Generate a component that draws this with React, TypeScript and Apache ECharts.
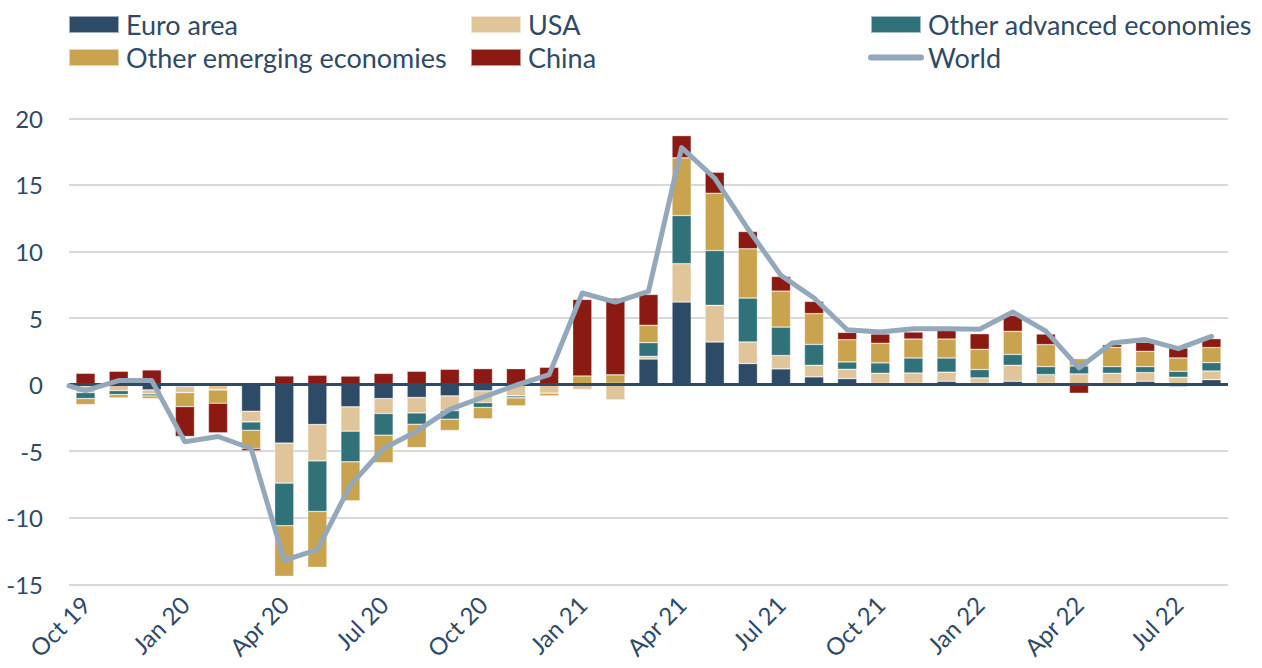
import React, { useEffect, useRef } from "react";
import * as echarts from "echarts";

const months: string[] = [
  "Oct 19", "Nov 19", "Dec 19",
  "Jan 20", "Feb 20", "Mar 20", "Apr 20", "May 20", "Jun 20", "Jul 20", "Aug 20", "Sep 20", "Oct 20", "Nov 20", "Dec 20",
  "Jan 21", "Feb 21", "Mar 21", "Apr 21", "May 21", "Jun 21", "Jul 21", "Aug 21", "Sep 21", "Oct 21", "Nov 21", "Dec 21",
  "Jan 22", "Feb 22", "Mar 22", "Apr 22", "May 22", "Jun 22", "Jul 22", "Aug 22",
];

const euroArea: number[] = [
  -0.1, -0.05, -0.4, -0.15, -0.05, -2.0, -4.4, -3.0, -1.67, -1.05, -0.97, -0.85, -0.47, -0.05, -0.05,
  -0.03, -0.05, 1.92, 6.2, 3.2, 1.58, 1.18, 0.58, 0.45, 0.1, 0.1, 0.25,
  0.1, 0.25, 0.1, 0.05, 0.1, 0.25, -0.15, 0.37,
];
const usa: number[] = [
  -0.5, -0.4, -0.3, -0.45, -0.35, -0.8, -3.0, -2.73, -1.83, -1.12, -1.16, -1.1, -0.88, -0.8, -0.6,
  -0.35, -1.1, 0.2, 2.88, 2.75, 1.62, 1.0, 0.87, 0.7, 0.75, 0.77, 0.68,
  0.4, 1.2, 0.65, 0.75, 0.75, 0.65, 0.55, 0.65,
];
const otherAdvanced: number[] = [
  -0.45, -0.3, -0.15, 0, 0, -0.63, -3.2, -3.8, -2.3, -1.63, -0.85, -0.65, -0.37, -0.15, 0,
  0, 0.1, 1.03, 3.62, 4.12, 3.3, 2.14, 1.57, 0.55, 0.78, 1.13, 1.07,
  0.63, 0.82, 0.6, 0.6, 0.5, 0.45, 0.45, 0.63,
];
const otherEmerging: number[] = [
  -0.45, -0.25, -0.2, -1.05, -1.0, -1.37, -3.8, -4.2, -2.93, -2.07, -1.75, -0.85, -0.85, -0.6, -0.2,
  0.65, 0.63, 1.3, 4.33, 4.3, 3.7, 2.7, 2.31, 1.67, 1.47, 1.42, 1.42,
  1.52, 1.73, 1.65, 0.55, 1.45, 1.15, 1.0, 1.13,
];
const china: number[] = [
  0.85, 1.0, 1.1, -2.25, -2.23, -0.18, 0.65, 0.7, 0.64, 0.84, 1.0, 1.15, 1.2, 1.2, 1.3,
  5.75, 5.75, 2.32, 1.67, 1.58, 1.3, 1.1, 0.92, 0.55, 0.7, 0.53, 0.71,
  1.17, 1.2, 0.8, -0.65, 0.2, 0.68, 0.75, 0.67,
];
// World line; the line starts half a month before the first bar
const worldStart = -0.1;
const world: number[] = [
  -0.45, 0.3, 0.3, -4.3, -3.9, -4.8, -13.2, -12.4, -7.55, -4.8, -3.5, -1.86, -0.95, -0.05, 0.75,
  6.88, 6.2, 7.0, 17.8, 15.5, 11.7, 8.2, 6.5, 4.12, 3.95, 4.2, 4.2,
  4.15, 5.45, 4.02, 1.25, 3.12, 3.38, 2.7, 3.62,
];

const yTicks = { min: -15, max: 20, interval: 5 };

const COLORS = {
  euro: "#2D4A66",
  usa: "#E0C59A",
  adv: "#31727A",
  emg: "#C9A34E",
  china: "#8A1A12",
  world: "#93A8BB",
  text: "#2E4A66",
  grid: "#D9D9D9",
};

const FONT = "Lato, 'Open Sans', sans-serif";

export default function App() {
  const ref = useRef<HTMLDivElement>(null);

  useEffect(() => {
    document.body.style.margin = "0";
    if (!ref.current) return;
    const chart = echarts.init(ref.current, undefined, { renderer: "svg" });

    const barSeries = (name: string, data: number[], color: string, extra: any = {}) => ({
      name,
      type: "bar",
      stack: "total",
      xAxisIndex: 0,
      yAxisIndex: 0,
      barWidth: "58%",
      data,
      itemStyle: { color, borderColor: "rgba(255,255,255,0.55)", borderWidth: 0.6 },
      emphasis: { disabled: true },
      ...extra,
    });

    const legendCommon = {
      orient: "vertical",
      top: 11,
      itemWidth: 50,
      itemHeight: 17,
      itemGap: 6,
      padding: 0,
      selectedMode: false,
      textStyle: { fontFamily: FONT, fontSize: 27, color: COLORS.text, padding: [0, 0, 0, 2] },
    };

    const option: any = {
      animation: false,
      textStyle: { fontFamily: FONT },
      legend: [
        { ...legendCommon, left: 68, data: [{ name: "Euro area", icon: "rect" }, { name: "Other emerging economies", icon: "rect" }] },
        { ...legendCommon, left: 470, data: [{ name: "USA", icon: "rect" }, { name: "China", icon: "rect" }] },
        {
          ...legendCommon,
          left: 868,
          data: [
            { name: "Other advanced economies", icon: "rect" },
            { name: "World", itemStyle: { opacity: 0 }, lineStyle: { width: 6, cap: "round" } },
          ],
        },
      ],
      grid: { left: 69, right: 34, top: 118.3, bottom: 83.7, containLabel: false },
      xAxis: [
        {
          type: "category",
          data: months,
          position: "bottom",
          axisLine: { show: false },
          axisTick: { show: false },
          axisLabel: {
            interval: 2,
            rotate: 45,
            margin: 16,
            fontFamily: FONT,
            fontSize: 24,
            color: COLORS.text,
          },
          splitLine: { show: false },
        },
        {
          type: "value",
          min: -0.5,
          max: months.length - 0.5,
          show: false,
        },
      ],
      yAxis: {
        type: "value",
        min: yTicks.min,
        max: yTicks.max,
        interval: yTicks.interval,
        axisLine: { show: false },
        axisTick: { show: false },
        axisLabel: { fontFamily: FONT, fontSize: 24, color: COLORS.text, margin: 26 },
        splitLine: { lineStyle: { color: COLORS.grid, width: 2 } },
      },
      series: [
        barSeries("Euro area", euroArea, COLORS.euro),
        barSeries("USA", usa, COLORS.usa),
        barSeries("Other advanced economies", otherAdvanced, COLORS.adv),
        barSeries("Other emerging economies", otherEmerging, COLORS.emg),
        barSeries("China", china, COLORS.china, {
          markLine: {
            silent: true,
            symbol: ["none", "none"],
            z: 2.5,
            label: { show: false },
            lineStyle: { color: COLORS.euro, width: 3, type: "solid" },
            data: [{ yAxis: 0 }],
          },
        }),
        {
          name: "World",
          type: "line",
          xAxisIndex: 1,
          yAxisIndex: 0,
          z: 3,
          symbol: "none",
          data: [[-0.5, worldStart], ...world.map((v, i) => [i, v])],
          lineStyle: { color: COLORS.world, width: 5, cap: "round", join: "round" },
          itemStyle: { color: COLORS.world },
          emphasis: { disabled: true },
        },
      ],
    };

    chart.setOption(option);
    return () => chart.dispose();
  }, []);

  return <div ref={ref} style={{ width: 1262, height: 668 }} />;
}
